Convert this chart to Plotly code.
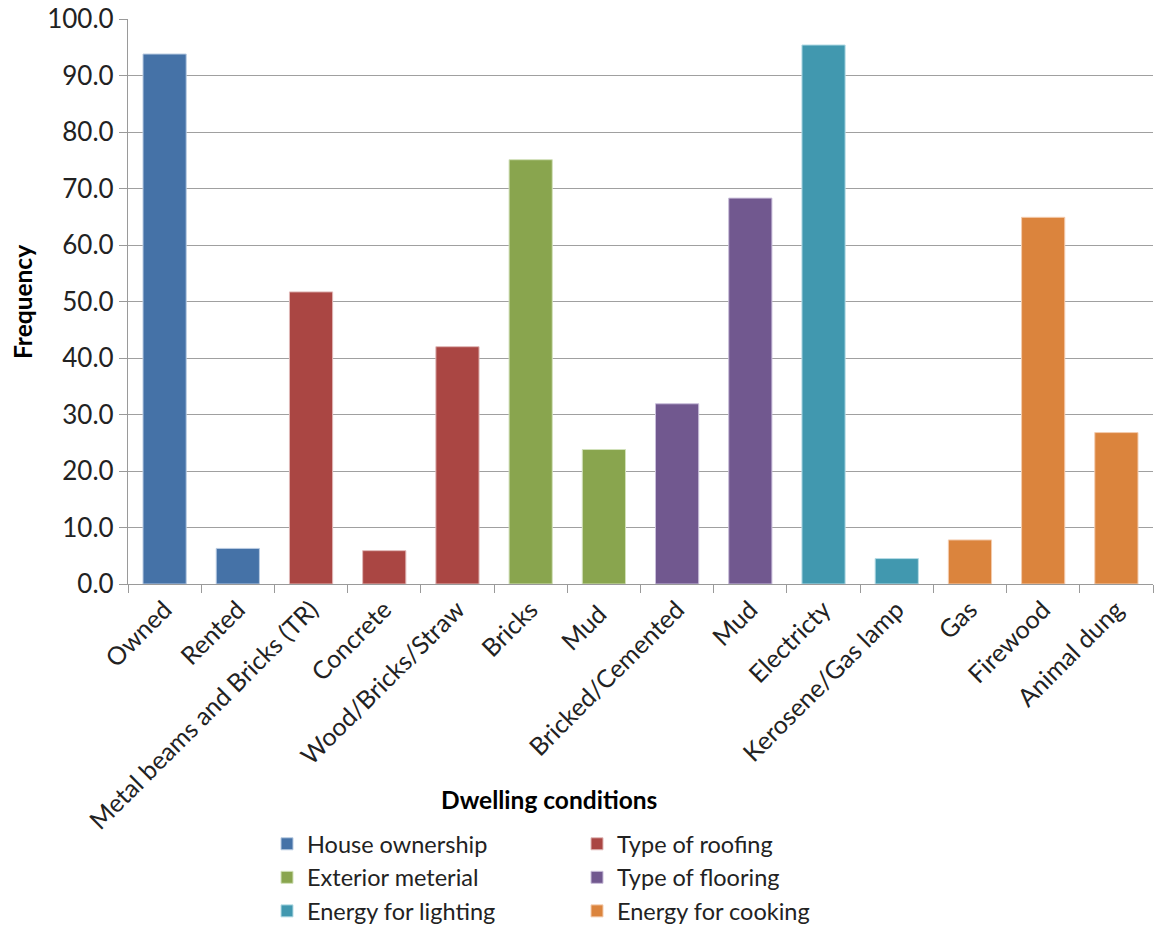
import plotly.graph_objects as go

# ---- data ----
categories = ["Owned", "Rented", "Metal beams and Bricks (TR)", "Concrete",
              "Wood/Bricks/Straw", "Bricks", "Mud ", "Bricked/Cemented", "Mud",
              "Electricty", "Kerosene/Gas lamp", "Gas", "Firewood", "Animal dung"]

group_names = ["House ownership", "Type of roofing", "Exterior meterial",
               "Type of flooring", "Energy for lighting", "Energy for cooking"]

house_ownership_x = ["Owned", "Rented"]
house_ownership_y = [93.8, 6.3]
roofing_x = ["Metal beams and Bricks (TR)", "Concrete", "Wood/Bricks/Straw"]
roofing_y = [51.7, 5.9, 42.0]
exterior_x = ["Bricks", "Mud "]
exterior_y = [75.1, 23.8]
flooring_x = ["Bricked/Cemented", "Mud"]
flooring_y = [31.9, 68.3]
lighting_x = ["Electricty", "Kerosene/Gas lamp"]
lighting_y = [95.4, 4.5]
cooking_x = ["Gas", "Firewood", "Animal dung"]
cooking_y = [7.8, 64.9, 26.8]

y_tick_vals = [0, 10, 20, 30, 40, 50, 60, 70, 80, 90, 100]

colors = ["#4572A7", "#AA4643", "#89A54E", "#71588F", "#4198AF", "#DB843D"]
edge_colors = ["#B9CBE2", "#E0B8B7", "#D2E1BA", "#C9BEDA", "#B6DCE6", "#F4CCAE"]

series = [
    (house_ownership_x, house_ownership_y, "legend"),
    (roofing_x, roofing_y, "legend2"),
    (exterior_x, exterior_y, "legend"),
    (flooring_x, flooring_y, "legend2"),
    (lighting_x, lighting_y, "legend"),
    (cooking_x, cooking_y, "legend2"),
]

FONT = "Lato, Calibri, 'Open Sans', sans-serif"

fig = go.Figure()
for i, (xs, ys, lg) in enumerate(series):
    fig.add_trace(go.Bar(
        x=xs, y=ys, name=group_names[i],
        marker=dict(color=colors[i], line=dict(color=edge_colors[i], width=1)),
        legend=lg,
    ))

L, R, T, B = 128, 7, 19, 343
W, H = 1160, 927
pw = W - L - R
ph = H - T - B


def px_x(px):
    return (px - L) / pw


def px_y(py):
    return (H - B - py) / ph


fig.update_layout(
    width=W, height=H,
    margin=dict(l=L, r=R, t=T, b=B, pad=0, autoexpand=False),
    paper_bgcolor="white", plot_bgcolor="white",
    barmode="overlay", bargap=0.41,
    font=dict(family=FONT, size=26, color="#222222"),
    xaxis=dict(
        type="category", categoryorder="array", categoryarray=categories,
        tickangle=-45, tickson="boundaries", ticks="outside", ticklen=8,
        tickcolor="#9A9A9A", tickwidth=1.3, automargin=False,
        showline=True, linecolor="#9A9A9A", linewidth=1.3,
        showgrid=False, tickfont=dict(size=25, family=FONT, color="#222222"),
    ),
    yaxis=dict(
        range=[0, 100], tickvals=y_tick_vals, tickformat=".1f",
        ticks="outside", ticklen=8, tickcolor="#9A9A9A", tickwidth=1.3,
        automargin=False,
        showline=True, linecolor="#9A9A9A", linewidth=1.3,
        showgrid=True, gridcolor="#A0A0A0", gridwidth=1.3,
        zeroline=False, tickfont=dict(size=26, family=FONT, color="#222222"),
    ),
    legend=dict(
        x=px_x(267), y=px_y(822), xanchor="left", yanchor="top",
        orientation="v", tracegroupgap=0, bgcolor="rgba(0,0,0,0)",
        font=dict(size=23.5, family=FONT, color="#222222"),
    ),
    legend2=dict(
        x=px_x(577), y=px_y(822), xanchor="left", yanchor="top",
        orientation="v", tracegroupgap=0, bgcolor="rgba(0,0,0,0)",
        font=dict(size=23.5, family=FONT, color="#222222"),
    ),
    showlegend=True,
    annotations=[
        dict(text="<b>Dwelling conditions</b>", x=px_x(549), y=px_y(800),
             xref="paper", yref="paper", xanchor="center", yanchor="middle",
             showarrow=False, font=dict(size=24.5, family=FONT, color="#000000")),
        dict(text="<b>Frequency</b>", x=px_x(22), y=px_y(302),
             xref="paper", yref="paper", xanchor="center", yanchor="middle",
             textangle=-90, showarrow=False,
             font=dict(size=24.5, family=FONT, color="#000000")),
    ],
)

fig.write_html("out.html")
